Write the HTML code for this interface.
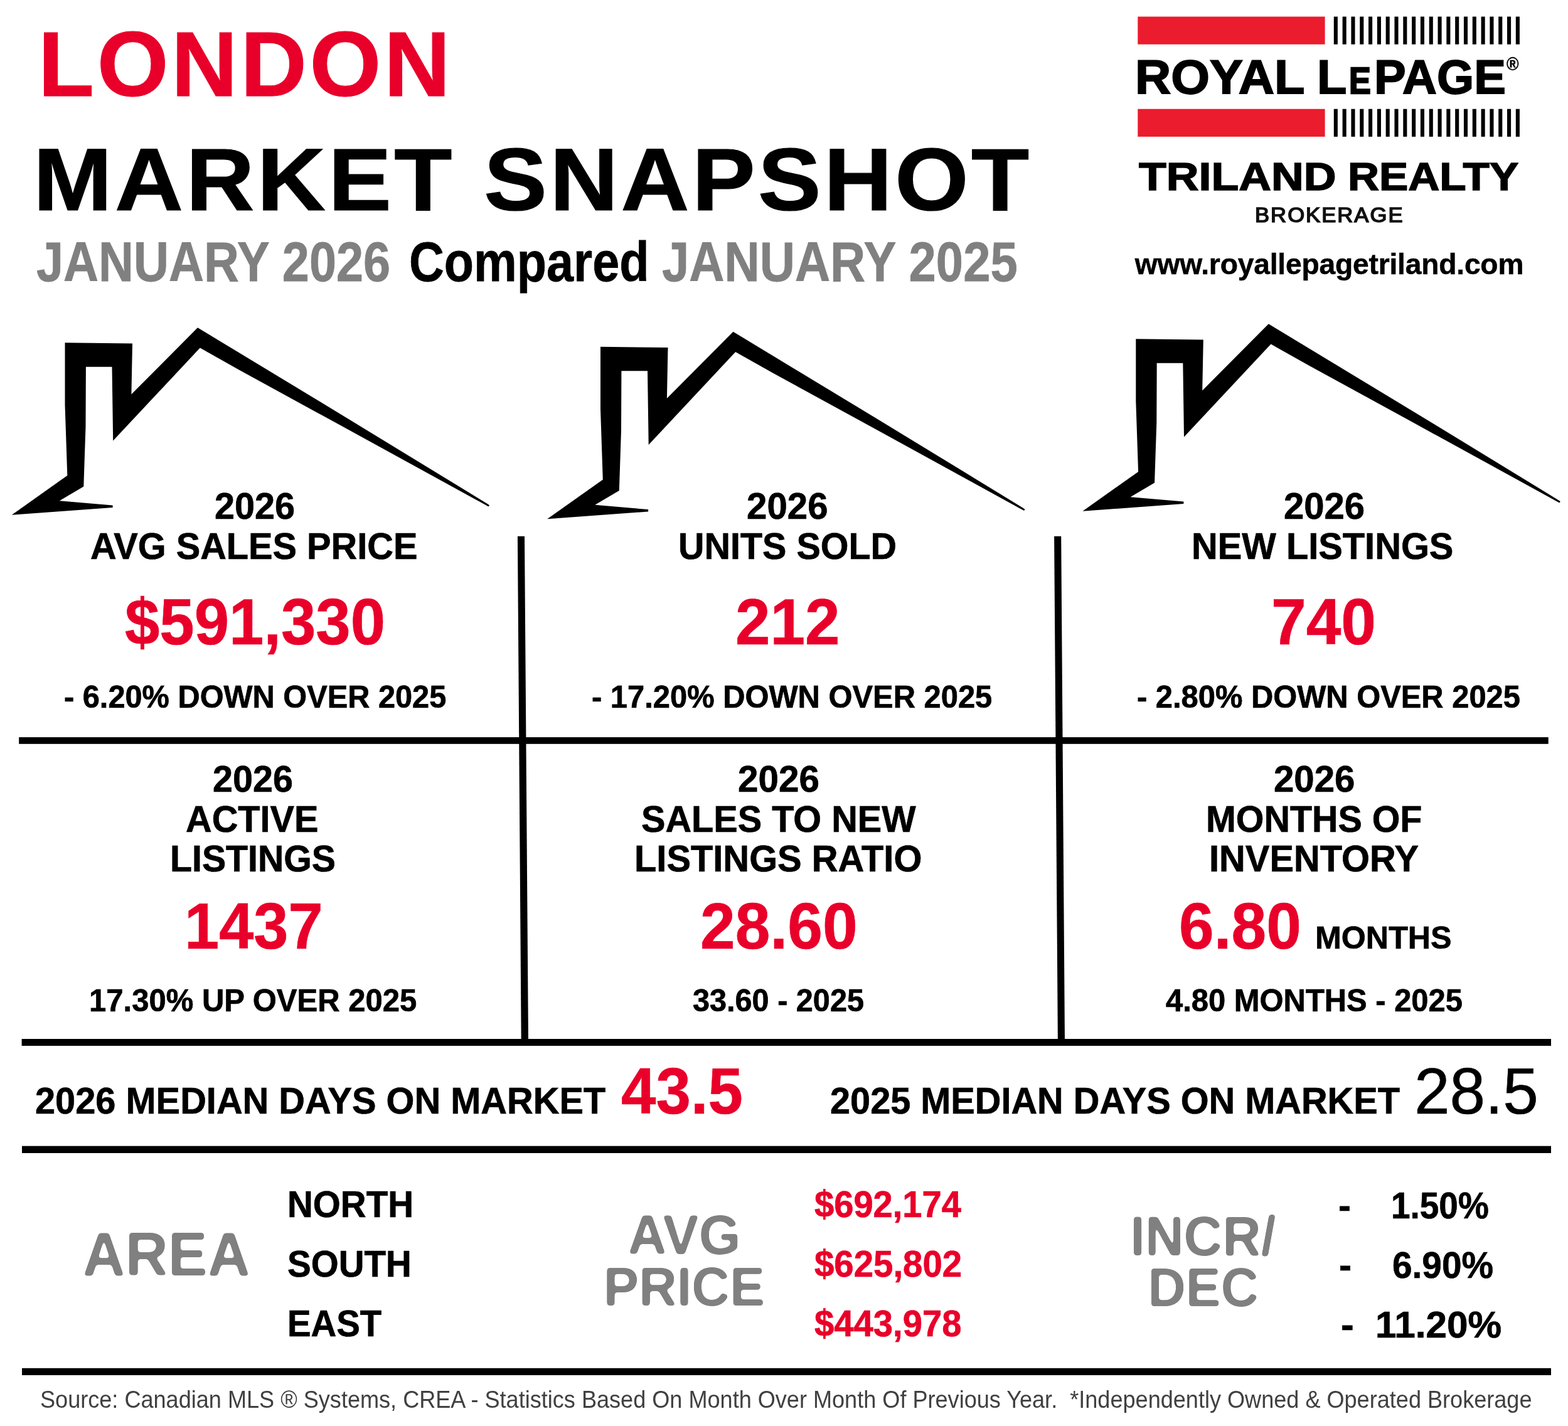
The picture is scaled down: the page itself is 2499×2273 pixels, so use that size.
<!DOCTYPE html>
<html lang="en">
<head>
<meta charset="utf-8">
<title>London Market Snapshot - January 2026</title>
<style>
html,body{margin:0;padding:0;background:#fff;}
body{width:2499px;height:2273px;position:relative;overflow:hidden;font-family:"Liberation Sans",Arial,Helvetica,sans-serif;}
.t{position:absolute;white-space:nowrap;line-height:1;font-weight:700;transform-origin:0 0;margin:0;padding:0;}
svg.g{position:absolute;left:0;top:0;}
</style>
</head>
<body>
<svg class="g" width="2499" height="2273" viewBox="0 0 2499 2273">
<defs>
<filter id="rnd" x="-5%" y="-25%" width="110%" height="150%" color-interpolation-filters="sRGB">
<feGaussianBlur stdDeviation="2.4"/>
<feComponentTransfer><feFuncA type="linear" slope="8" intercept="-3.5"/></feComponentTransfer>
</filter>
</defs>
<g class="gfx">
<rect x="1813.3" y="26.5" width="298.3" height="44.2" fill="#ea1c2d"/>
<rect x="1813.3" y="173.7" width="298.3" height="44.2" fill="#ea1c2d"/>
<rect x="2125.80" y="26.5" width="6.1" height="44.2" fill="#000"/>
<rect x="2125.80" y="173.7" width="6.1" height="44.2" fill="#000"/>
<rect x="2139.61" y="26.5" width="6.1" height="44.2" fill="#000"/>
<rect x="2139.61" y="173.7" width="6.1" height="44.2" fill="#000"/>
<rect x="2153.42" y="26.5" width="6.1" height="44.2" fill="#000"/>
<rect x="2153.42" y="173.7" width="6.1" height="44.2" fill="#000"/>
<rect x="2167.23" y="26.5" width="6.1" height="44.2" fill="#000"/>
<rect x="2167.23" y="173.7" width="6.1" height="44.2" fill="#000"/>
<rect x="2181.04" y="26.5" width="6.1" height="44.2" fill="#000"/>
<rect x="2181.04" y="173.7" width="6.1" height="44.2" fill="#000"/>
<rect x="2194.85" y="26.5" width="6.1" height="44.2" fill="#000"/>
<rect x="2194.85" y="173.7" width="6.1" height="44.2" fill="#000"/>
<rect x="2208.66" y="26.5" width="6.1" height="44.2" fill="#000"/>
<rect x="2208.66" y="173.7" width="6.1" height="44.2" fill="#000"/>
<rect x="2222.47" y="26.5" width="6.1" height="44.2" fill="#000"/>
<rect x="2222.47" y="173.7" width="6.1" height="44.2" fill="#000"/>
<rect x="2236.28" y="26.5" width="6.1" height="44.2" fill="#000"/>
<rect x="2236.28" y="173.7" width="6.1" height="44.2" fill="#000"/>
<rect x="2250.09" y="26.5" width="6.1" height="44.2" fill="#000"/>
<rect x="2250.09" y="173.7" width="6.1" height="44.2" fill="#000"/>
<rect x="2263.90" y="26.5" width="6.1" height="44.2" fill="#000"/>
<rect x="2263.90" y="173.7" width="6.1" height="44.2" fill="#000"/>
<rect x="2277.71" y="26.5" width="6.1" height="44.2" fill="#000"/>
<rect x="2277.71" y="173.7" width="6.1" height="44.2" fill="#000"/>
<rect x="2291.52" y="26.5" width="6.1" height="44.2" fill="#000"/>
<rect x="2291.52" y="173.7" width="6.1" height="44.2" fill="#000"/>
<rect x="2305.33" y="26.5" width="6.1" height="44.2" fill="#000"/>
<rect x="2305.33" y="173.7" width="6.1" height="44.2" fill="#000"/>
<rect x="2319.14" y="26.5" width="6.1" height="44.2" fill="#000"/>
<rect x="2319.14" y="173.7" width="6.1" height="44.2" fill="#000"/>
<rect x="2332.95" y="26.5" width="6.1" height="44.2" fill="#000"/>
<rect x="2332.95" y="173.7" width="6.1" height="44.2" fill="#000"/>
<rect x="2346.76" y="26.5" width="6.1" height="44.2" fill="#000"/>
<rect x="2346.76" y="173.7" width="6.1" height="44.2" fill="#000"/>
<rect x="2360.57" y="26.5" width="6.1" height="44.2" fill="#000"/>
<rect x="2360.57" y="173.7" width="6.1" height="44.2" fill="#000"/>
<rect x="2374.38" y="26.5" width="6.1" height="44.2" fill="#000"/>
<rect x="2374.38" y="173.7" width="6.1" height="44.2" fill="#000"/>
<rect x="2388.19" y="26.5" width="6.1" height="44.2" fill="#000"/>
<rect x="2388.19" y="173.7" width="6.1" height="44.2" fill="#000"/>
<rect x="2402.00" y="26.5" width="6.1" height="44.2" fill="#000"/>
<rect x="2402.00" y="173.7" width="6.1" height="44.2" fill="#000"/>
<rect x="2415.81" y="26.5" width="6.1" height="44.2" fill="#000"/>
<rect x="2415.81" y="173.7" width="6.1" height="44.2" fill="#000"/>
<polygon fill="#000" points="18.8,820.8 107.3,757.9 103.5,645.8 103.5,546.2 211.0,547.5 209.4,628.5 315.0,522.3 540.0,658.4 778.3,803.9 780.0,805.6 778.5,807.4 540.0,676.6 380.0,589.0 318.8,554.6 180.2,702.5 178.5,584.8 136.9,584.8 136.5,680.0 133.3,775.4 94.8,798.3 179.6,805.6 179.6,809.0"/>
<polygon fill="#000" points="872.2,827.3 960.8,764.4 957.0,652.3 957.0,552.8 1064.5,554.0 1062.9,635.0 1168.5,528.8 1393.5,664.9 1631.8,810.4 1633.5,812.1 1632.0,813.9 1393.5,683.1 1233.5,595.5 1172.2,561.1 1033.7,709.0 1032.0,591.3 990.4,591.3 990.0,686.5 986.8,781.9 948.3,804.8 1033.1,812.1 1033.1,815.5"/>
<polygon fill="#000" points="1725.5,814.8 1814.1,751.9 1810.3,639.8 1810.3,540.2 1917.8,541.5 1916.2,622.5 2021.8,516.3 2246.8,652.4 2485.1,797.9 2486.8,799.6 2485.3,801.4 2246.8,670.6 2086.8,583.0 2025.5,548.6 1887.0,696.5 1885.3,578.8 1843.7,578.8 1843.3,674.0 1840.1,769.4 1801.6,792.3 1886.4,799.6 1886.4,803.0"/>
<rect x="30.2" y="1175.1" width="2437.5" height="10.7" fill="#000"/>
<rect x="34.6" y="1656.0" width="2437.4" height="11.0" fill="#000"/>
<rect x="35.0" y="1826.7" width="2437.0" height="11.3" fill="#000"/>
<rect x="35.0" y="2180.8" width="2437.0" height="11.2" fill="#000"/>
<polygon fill="#000" points="824.9,854.8 836.0,854.8 842.0,1660.0 830.7,1660.0"/>
<polygon fill="#000" points="1680.1,854.8 1691.2,854.8 1697.0,1660.0 1685.9,1660.0"/>
</g>
<g font-family="'Liberation Sans',Arial,Helvetica,sans-serif">
<text class="s" transform="translate(131.45 2032.68) scale(0.9665 1)" font-size="97.70" fill="#808080" font-weight="700" filter="url(#rnd)">AREA</text>
<text class="s" transform="translate(1000.62 1998.60) scale(0.9710 1)" font-size="88.52" fill="#808080" font-weight="700" filter="url(#rnd)">AVG</text>
<text class="s" transform="translate(961.66 2080.60) scale(0.9670 1)" font-size="87.21" fill="#808080" font-weight="700" filter="url(#rnd)">PRICE</text>
<text class="s" transform="translate(1801.29 2000.53) scale(0.9668 1)" font-size="88.25" fill="#808080" font-weight="700" filter="url(#rnd)">INCR/</text>
<text class="s" transform="translate(1829.16 2081.59) scale(0.9697 1)" font-size="86.49" fill="#808080" font-weight="700" filter="url(#rnd)">DEC</text>
</g>
</svg>
<div class="t" style="left:60.70px;top:28.88px;font-size:146.43px;color:#e9002a;letter-spacing:4.54px;-webkit-text-stroke:1.0px #e9002a;">LONDON</div>
<div class="t" style="left:52.72px;top:216.12px;font-size:141.47px;color:#000;transform:scaleX(1.0660);letter-spacing:4.18px;-webkit-text-stroke:1.2px #000;">MARKET SNAPSHOT</div>
<div class="t" style="left:58.32px;top:374.41px;font-size:88.76px;color:#808080;transform:scaleX(0.8731);-webkit-text-stroke:0.8px #808080;">JANUARY 2026</div>
<div class="t" style="left:652.45px;top:373.69px;font-size:88.78px;color:#000;transform:scaleX(0.8713);-webkit-text-stroke:0.8px #000;">Compared</div>
<div class="t" style="left:1055.45px;top:373.43px;font-size:89.72px;color:#808080;transform:scaleX(0.8675);-webkit-text-stroke:0.8px #808080;">JANUARY 2025</div>
<div class="t" style="left:1809.34px;top:84.94px;font-size:76.19px;color:#000;transform:scaleX(1.0415);-webkit-text-stroke:1.8px #000;">ROYAL</div>
<div class="t" style="left:2098.85px;top:85.18px;font-size:76.12px;color:#000;transform:scaleX(1.0187);-webkit-text-stroke:1.8px #000;">L</div>
<div class="t" style="left:2150.33px;top:99.80px;font-size:58.36px;color:#000;transform:scaleX(0.8941);-webkit-text-stroke:2.4px #000;">E</div>
<div class="t" style="left:2190.26px;top:84.87px;font-size:75.98px;color:#000;transform:scaleX(1.0012);-webkit-text-stroke:1.8px #000;">PAGE</div>
<div class="t" style="left:2401.11px;top:87.53px;font-size:29.18px;color:#000;transform:scaleX(0.9107);-webkit-text-stroke:0.4px #000;">®</div>
<div class="t" style="left:1814.66px;top:250.69px;font-size:62.12px;color:#000;transform:scaleX(1.1545);-webkit-text-stroke:1.5px #000;">TRILAND</div>
<div class="t" style="left:2148.18px;top:250.72px;font-size:62.08px;color:#000;transform:scaleX(1.1167);-webkit-text-stroke:1.5px #000;">REALTY</div>
<div class="t" style="left:1999.56px;top:325.82px;font-size:33.29px;color:#111;transform:scaleX(1.0400);font-weight:400;letter-spacing:1.95px;-webkit-text-stroke:1.6px #111;">BROKERAGE</div>
<div class="t" style="left:1808.72px;top:398.21px;font-size:46.21px;color:#000;letter-spacing:-0.20px;-webkit-text-stroke:0.5px #000;">www.royallepagetriland.com</div>
<div class="t" style="left:341.95px;top:776.64px;font-size:59.30px;color:#000;transform:scaleX(0.9716);-webkit-text-stroke:0.7px #000;">2026</div>
<div class="t" style="left:144.42px;top:840.69px;font-size:59.69px;color:#000;transform:scaleX(0.9664);-webkit-text-stroke:0.7px #000;">AVG SALES PRICE</div>
<div class="t" style="left:199.36px;top:939.62px;font-size:103.60px;color:#e9002a;transform:scaleX(0.9605);-webkit-text-stroke:0.7px #e9002a;">$591,330</div>
<div class="t" style="left:101.76px;top:1085.97px;font-size:50.15px;color:#000;transform:scaleX(0.9718);-webkit-text-stroke:0.7px #000;">- 6.20% DOWN OVER 2025</div>
<div class="t" style="left:1190.03px;top:776.64px;font-size:59.30px;color:#000;transform:scaleX(0.9818);-webkit-text-stroke:0.7px #000;">2026</div>
<div class="t" style="left:1080.97px;top:840.69px;font-size:59.44px;color:#000;transform:scaleX(0.9669);-webkit-text-stroke:0.7px #000;">UNITS SOLD</div>
<div class="t" style="left:1172.02px;top:939.98px;font-size:103.48px;color:#e9002a;transform:scaleX(0.9653);-webkit-text-stroke:0.7px #e9002a;">212</div>
<div class="t" style="left:943.31px;top:1085.75px;font-size:50.65px;color:#000;transform:scaleX(0.9650);-webkit-text-stroke:0.7px #000;">- 17.20% DOWN OVER 2025</div>
<div class="t" style="left:2045.64px;top:776.70px;font-size:60.13px;color:#000;transform:scaleX(0.9656);-webkit-text-stroke:0.7px #000;">2026</div>
<div class="t" style="left:1899.21px;top:840.68px;font-size:59.80px;color:#000;transform:scaleX(0.9665);-webkit-text-stroke:0.7px #000;">NEW LISTINGS</div>
<div class="t" style="left:2025.61px;top:939.83px;font-size:103.11px;color:#e9002a;transform:scaleX(0.9703);-webkit-text-stroke:0.7px #e9002a;">740</div>
<div class="t" style="left:1811.53px;top:1085.87px;font-size:50.39px;color:#000;transform:scaleX(0.9698);-webkit-text-stroke:0.7px #000;">- 2.80% DOWN OVER 2025</div>
<div class="t" style="left:339.08px;top:1211.85px;font-size:59.50px;color:#000;transform:scaleX(0.9671);-webkit-text-stroke:0.7px #000;">2026</div>
<div class="t" style="left:296.31px;top:1275.69px;font-size:59.43px;color:#000;transform:scaleX(0.9702);-webkit-text-stroke:0.7px #000;">ACTIVE</div>
<div class="t" style="left:270.82px;top:1338.74px;font-size:59.30px;color:#000;transform:scaleX(0.9656);-webkit-text-stroke:0.7px #000;">LISTINGS</div>
<div class="t" style="left:293.98px;top:1425.04px;font-size:103.06px;color:#e9002a;transform:scaleX(0.9619);-webkit-text-stroke:0.7px #e9002a;">1437</div>
<div class="t" style="left:141.66px;top:1570.59px;font-size:49.88px;color:#000;transform:scaleX(0.9829);-webkit-text-stroke:0.7px #000;">17.30% UP OVER 2025</div>
<div class="t" style="left:1176.20px;top:1211.85px;font-size:59.50px;color:#000;transform:scaleX(0.9817);-webkit-text-stroke:0.7px #000;">2026</div>
<div class="t" style="left:1021.65px;top:1275.67px;font-size:59.81px;color:#000;transform:scaleX(0.9638);-webkit-text-stroke:0.7px #000;">SALES TO NEW</div>
<div class="t" style="left:1011.18px;top:1338.74px;font-size:59.30px;color:#000;transform:scaleX(0.9753);-webkit-text-stroke:0.7px #000;">LISTINGS RATIO</div>
<div class="t" style="left:1115.92px;top:1424.71px;font-size:103.38px;color:#e9002a;transform:scaleX(0.9686);-webkit-text-stroke:0.7px #e9002a;">28.60</div>
<div class="t" style="left:1104.33px;top:1569.78px;font-size:50.66px;color:#000;transform:scaleX(0.9595);-webkit-text-stroke:0.7px #000;">33.60 - 2025</div>
<div class="t" style="left:2030.21px;top:1211.85px;font-size:59.50px;color:#000;transform:scaleX(0.9783);-webkit-text-stroke:0.7px #000;">2026</div>
<div class="t" style="left:1922.21px;top:1275.68px;font-size:59.47px;color:#000;transform:scaleX(0.9654);-webkit-text-stroke:0.7px #000;">MONTHS OF</div>
<div class="t" style="left:1926.86px;top:1338.65px;font-size:59.53px;color:#000;transform:scaleX(0.9717);-webkit-text-stroke:0.7px #000;">INVENTORY</div>
<div class="t" style="left:1878.82px;top:1424.60px;font-size:103.42px;color:#e9002a;transform:scaleX(0.9679);-webkit-text-stroke:0.7px #e9002a;">6.80</div>
<div class="t" style="left:2095.79px;top:1470.04px;font-size:50.23px;color:#000;transform:scaleX(0.9997);-webkit-text-stroke:0.7px #000;">MONTHS</div>
<div class="t" style="left:1858.41px;top:1570.00px;font-size:50.22px;color:#000;transform:scaleX(0.9739);-webkit-text-stroke:0.7px #000;">4.80 MONTHS - 2025</div>
<div class="t" style="left:56.07px;top:1724.81px;font-size:59.72px;color:#000;transform:scaleX(0.9670);-webkit-text-stroke:0.7px #000;">2026 MEDIAN DAYS ON MARKET</div>
<div class="t" style="left:990.14px;top:1687.68px;font-size:103.69px;color:#e9002a;transform:scaleX(0.9614);-webkit-text-stroke:0.7px #e9002a;">43.5</div>
<div class="t" style="left:1322.91px;top:1724.81px;font-size:59.72px;color:#000;transform:scaleX(0.9656);-webkit-text-stroke:0.7px #000;">2025 MEDIAN DAYS ON MARKET</div>
<div class="t" style="left:2253.83px;top:1687.98px;font-size:103.08px;color:#000;transform:scaleX(0.9862);font-weight:400;-webkit-text-stroke:0.7px #000;">28.5</div>
<div class="t" style="left:457.50px;top:1889.50px;font-size:59.74px;color:#000;transform:scaleX(0.9465);-webkit-text-stroke:0.7px #000;">NORTH</div>
<div class="t" style="left:457.82px;top:1984.56px;font-size:59.16px;color:#000;transform:scaleX(0.9555);-webkit-text-stroke:0.7px #000;">SOUTH</div>
<div class="t" style="left:457.54px;top:2079.67px;font-size:59.54px;color:#000;transform:scaleX(0.9466);-webkit-text-stroke:0.7px #000;">EAST</div>
<div class="t" style="left:1298.01px;top:1889.66px;font-size:59.16px;color:#e9002a;transform:scaleX(0.9481);-webkit-text-stroke:0.7px #e9002a;">$692,174</div>
<div class="t" style="left:1297.91px;top:1986.15px;font-size:58.49px;color:#e9002a;transform:scaleX(0.9641);-webkit-text-stroke:0.7px #e9002a;">$625,802</div>
<div class="t" style="left:1298.01px;top:2079.56px;font-size:59.16px;color:#e9002a;transform:scaleX(0.9507);-webkit-text-stroke:0.7px #e9002a;">$443,978</div>
<div class="t" style="left:2132.52px;top:1893.19px;font-size:58.32px;color:#000;transform:scaleX(1.0273);-webkit-text-stroke:0.7px #000;">-</div>
<div class="t" style="left:2216.96px;top:1891.52px;font-size:59.23px;color:#000;transform:scaleX(0.9276);-webkit-text-stroke:0.7px #000;">1.50%</div>
<div class="t" style="left:2134.36px;top:1987.94px;font-size:58.81px;color:#000;transform:scaleX(1.0274);-webkit-text-stroke:0.7px #000;">-</div>
<div class="t" style="left:2218.82px;top:1986.52px;font-size:59.43px;color:#000;transform:scaleX(0.9559);-webkit-text-stroke:0.7px #000;">6.90%</div>
<div class="t" style="left:2136.51px;top:2082.53px;font-size:58.97px;color:#000;transform:scaleX(1.0523);-webkit-text-stroke:0.7px #000;">-</div>
<div class="t" style="left:2192.35px;top:2082.06px;font-size:59.16px;color:#000;transform:scaleX(1.0193);-webkit-text-stroke:0.7px #000;">11.20%</div>
<div class="t" style="left:63.81px;top:2211.63px;font-size:38.20px;color:#404040;transform:scaleX(0.9450);font-weight:400;white-space:pre;">Source: Canadian MLS ® Systems, CREA - Statistics Based On Month Over Month Of Previous Year.  *Independently Owned &amp; Operated Brokerage</div>
</body>
</html>
